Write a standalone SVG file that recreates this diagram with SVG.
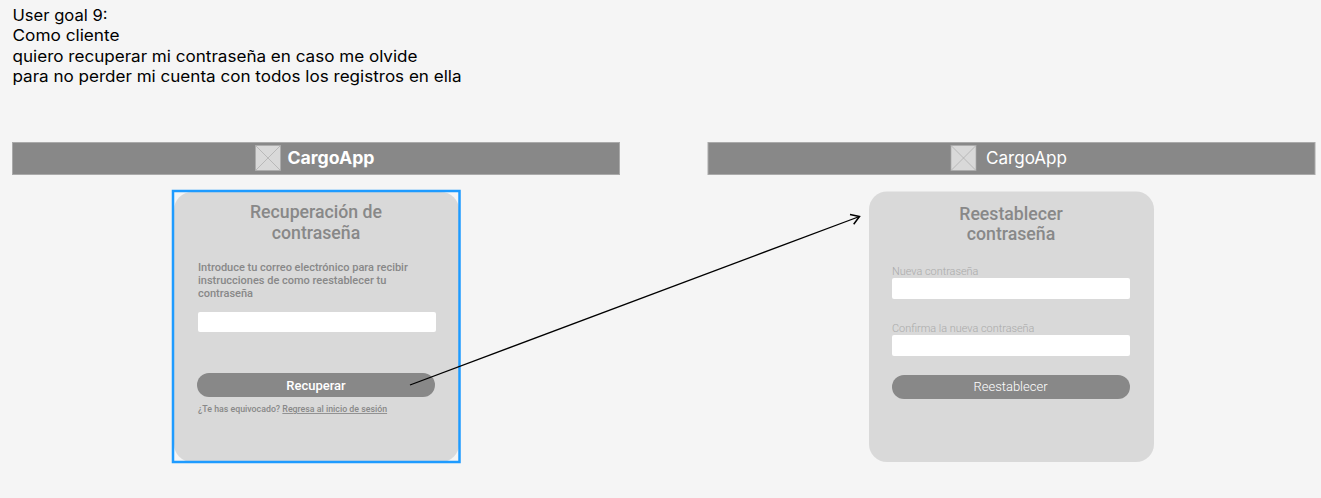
<svg xmlns="http://www.w3.org/2000/svg" width="1321" height="498" viewBox="0 0 1321 498">
<style>
.goal{font:16px "Inter","Noto Sans",sans-serif;fill:#000}
.r{font-family:Roboto,"Liberation Sans",sans-serif}
.bar{fill:#888;stroke:#aaa;stroke-width:1}
.card{fill:#d9d9d9}
.ph{fill:#d9d9d9;stroke:#aaa;stroke-width:.7}
.field{fill:#fff}
.btn{fill:#888}
.title{font-size:17.7px;font-weight:500;fill:#888;text-anchor:middle}
.bt{fill:#fff;text-anchor:middle;font-size:13px}
.lab{font-size:10.9px;font-weight:300;fill:#aaa}
</style>
<defs>
<marker id="ah" markerUnits="userSpaceOnUse" markerWidth="14" markerHeight="14" refX="10" refY="6" orient="auto" viewBox="0 0 12 12"><path d="M3 1.500L10 6L3 10.500" fill="none" stroke="#000" stroke-width="1.300"/></marker>
</defs>
<rect width="1321" height="498" fill="#f5f5f5"/>
<g id="goal">
<text class="goal" x="12.500" y="20.500" textLength="95" lengthAdjust="spacingAndGlyphs">User goal 9:</text>
<text class="goal" x="12.500" y="41" textLength="107" lengthAdjust="spacingAndGlyphs">Como cliente</text>
<text class="goal" x="12.500" y="61.500" textLength="405" lengthAdjust="spacingAndGlyphs">quiero recuperar mi contraseña en caso me olvide</text>
<text class="goal" x="12.500" y="82" textLength="449" lengthAdjust="spacingAndGlyphs">para no perder mi cuenta con todos los registros en ella</text>
</g>
<g id="header-left">
<rect class="bar" x="12.500" y="142.500" width="607" height="32"/>
<rect class="ph" x="255.500" y="145.500" width="25" height="25"/><path d="M255.500 145.500L280.500 170.500M280.500 145.500L255.500 170.500" stroke="#aaa" stroke-width=".7"/>
<text x="287.500" y="164" font-family="Inter,sans-serif" font-weight="700" font-size="17" fill="#fff" textLength="87" lengthAdjust="spacingAndGlyphs">CargoApp</text>
</g>
<g id="header-right">
<rect class="bar" x="708" y="142.500" width="607" height="32"/>
<rect class="ph" x="951" y="145.500" width="25" height="25"/><path d="M951 145.500L976 170.500M976 145.500L951 170.500" stroke="#aaa" stroke-width=".7"/>
<text x="986" y="164" font-family="Inter,sans-serif" font-size="17" fill="#fff" textLength="81" lengthAdjust="spacingAndGlyphs">CargoApp</text>
</g>
<g id="card-recuperar" class="r">
<rect class="card" x="174" y="192" width="285" height="270" rx="18"/>
<rect x="173" y="191" width="286.500" height="271" fill="none" stroke="#1e9bff" stroke-width="2.500"/>
<text class="title" x="316" y="218">Recuperación de</text>
<text class="title" x="316" y="238.500">contraseña</text>
<g font-size="11" font-weight="500" fill="#888">
<text x="198" y="271">Introduce tu correo electrónico para recibir</text>
<text x="198" y="284">instrucciones de como reestablecer tu</text>
<text x="198" y="297">contraseña</text>
</g>
<rect class="field" x="198" y="312" width="238" height="20" rx="2"/>
<rect class="btn" x="197" y="373" width="238" height="24" rx="12"/>
<text class="bt" x="316" y="390" font-weight="500">Recuperar</text>
<text x="198" y="412" font-size="8.800" font-weight="500" fill="#888">¿Te has equivocado? <tspan text-decoration="underline">Regresa al inicio de sesión</tspan></text>
</g>
<g id="card-reestablecer" class="r">
<rect class="card" x="869" y="191.500" width="285" height="270.500" rx="18"/>
<text class="title" x="1011" y="219.500" font-weight="400">Reestablecer</text>
<text class="title" x="1011" y="240" font-weight="400">contraseña</text>
<text class="lab" x="892" y="275">Nueva contraseña</text>
<rect class="field" x="892" y="278" width="238" height="21" rx="2"/>
<text class="lab" x="892" y="332">Confirma la nueva contraseña</text>
<rect class="field" x="892" y="335" width="238" height="21" rx="2"/>
<rect class="btn" x="892" y="375" width="238" height="24" rx="12"/>
<text class="bt" x="1010.500" y="391" font-weight="300">Reestablecer</text>
</g>
<g id="connectors">
<path d="M410 385L859.500 216.500" fill="none" stroke="#000" stroke-width="1.300" marker-end="url(#ah)"/>
</g>
</svg>
